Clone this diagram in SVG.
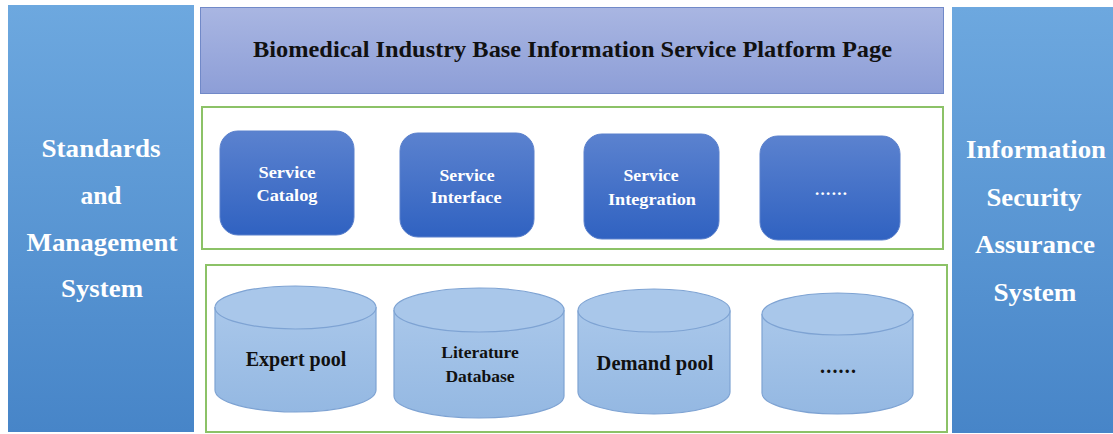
<svg xmlns="http://www.w3.org/2000/svg" width="1113" height="434" viewBox="0 0 1113 434">
  <defs>
    <linearGradient id="sideFill" x1="0" y1="0" x2="0" y2="1">
      <stop offset="0" stop-color="#6da8df"/>
      <stop offset="1" stop-color="#4785c8"/>
    </linearGradient>
    <linearGradient id="titleFill" x1="0" y1="0" x2="0" y2="1">
      <stop offset="0" stop-color="#a9b6e2"/>
      <stop offset="1" stop-color="#8d9ed7"/>
    </linearGradient>
    <linearGradient id="serviceFill" x1="0" y1="0" x2="0" y2="1">
      <stop offset="0" stop-color="#5b82cf"/>
      <stop offset="1" stop-color="#3062c1"/>
    </linearGradient>
    <linearGradient id="dbFill" x1="0" y1="0" x2="0" y2="1">
      <stop offset="0" stop-color="#a9c7ea"/>
      <stop offset="1" stop-color="#94b8e2"/>
    </linearGradient>
    <style>
      .side { fill: url(#sideFill); }
      .side-text { font-family: "Liberation Serif", serif; font-weight: bold; font-size: 25px; fill: #ffffff; text-anchor: middle; }
      .title { fill: url(#titleFill); stroke: #7189c8; stroke-width: 1; }
      .title-text { font-family: "Liberation Serif", serif; font-weight: bold; font-size: 23px; fill: #111111; text-anchor: middle; }
      .frame { fill: #ffffff; stroke: #8cc267; stroke-width: 2; }
      .service { fill: url(#serviceFill); stroke: #5a80cc; stroke-width: 1; }
      .service-text { font-family: "Liberation Serif", serif; font-weight: bold; font-size: 17px; fill: #ffffff; text-anchor: middle; }
      .db-body { fill: url(#dbFill); stroke: #7ea3d3; stroke-width: 1.2; }
      .db-top { fill: #a9c7ea; stroke: #7ea3d3; stroke-width: 1.2; }
      .db-text { font-family: "Liberation Serif", serif; font-weight: bold; fill: #111111; text-anchor: middle; }
    </style>
  </defs>

  <rect width="1113" height="434" fill="#ffffff"/>

  <!-- left column -->
  <g id="standards">
    <rect class="side" x="8" y="5" width="186" height="427"/>
    <text class="side-text" x="101" y="157" textLength="119" lengthAdjust="spacingAndGlyphs">Standards</text>
    <text class="side-text" x="101" y="204" textLength="41" lengthAdjust="spacingAndGlyphs">and</text>
    <text class="side-text" x="102" y="251" textLength="151" lengthAdjust="spacingAndGlyphs">Management</text>
    <text class="side-text" x="102" y="297" textLength="82" lengthAdjust="spacingAndGlyphs">System</text>
  </g>

  <!-- right column -->
  <g id="security">
    <rect class="side" x="952" y="7" width="161" height="426"/>
    <text class="side-text" x="1036" y="158" textLength="140" lengthAdjust="spacingAndGlyphs">Information</text>
    <text class="side-text" x="1034" y="206" textLength="95" lengthAdjust="spacingAndGlyphs">Security</text>
    <text class="side-text" x="1035" y="253" textLength="120" lengthAdjust="spacingAndGlyphs">Assurance</text>
    <text class="side-text" x="1035" y="301" textLength="83" lengthAdjust="spacingAndGlyphs">System</text>
  </g>

  <!-- platform page banner -->
  <g id="platform-page">
    <rect class="title" x="200.5" y="7.5" width="743" height="86"/>
    <text class="title-text" x="572.5" y="57" textLength="639" lengthAdjust="spacingAndGlyphs">Biomedical Industry Base Information Service Platform Page</text>
  </g>

  <!-- service layer -->
  <g id="service-layer">
    <rect class="frame" x="202" y="107" width="741" height="142"/>
  </g>
  <g id="service-catalog">
    <rect class="service" x="220" y="131" width="134" height="104" rx="18"/>
    <text class="service-text" x="287" y="178" textLength="57" lengthAdjust="spacingAndGlyphs">Service</text>
    <text class="service-text" x="287" y="201" textLength="61" lengthAdjust="spacingAndGlyphs">Catalog</text>
  </g>
  <g id="service-interface">
    <rect class="service" x="400" y="133" width="134" height="104" rx="18"/>
    <text class="service-text" x="467" y="181" textLength="55" lengthAdjust="spacingAndGlyphs">Service</text>
    <text class="service-text" x="466" y="203" textLength="71" lengthAdjust="spacingAndGlyphs">Interface</text>
  </g>
  <g id="service-integration">
    <rect class="service" x="584" y="134" width="135" height="105" rx="18"/>
    <text class="service-text" x="651" y="181" textLength="55" lengthAdjust="spacingAndGlyphs">Service</text>
    <text class="service-text" x="652" y="205" textLength="88" lengthAdjust="spacingAndGlyphs">Integration</text>
  </g>
  <g id="service-more">
    <rect class="service" x="760" y="136" width="140" height="104" rx="18"/>
    <text class="service-text" x="831" y="195" textLength="32" lengthAdjust="spacing">......</text>
  </g>

  <!-- data layer -->
  <g id="data-layer">
    <rect class="frame" x="206" y="265" width="741" height="167"/>
  </g>
  <g id="expert-pool">
    <path class="db-body" d="M215,307 V390 A80.5,22 0 0 0 376,390 V307"/>
    <ellipse class="db-top" cx="295.5" cy="307.5" rx="80.5" ry="21.5"/>
    <text class="db-text" x="296" y="366" font-size="20">Expert pool</text>
  </g>
  <g id="literature-db">
    <path class="db-body" d="M394,310 V396 A85,22 0 0 0 564,396 V310"/>
    <ellipse class="db-top" cx="479" cy="310" rx="85" ry="22"/>
    <text class="db-text" x="480" y="358" font-size="17.5">Literature</text>
    <text class="db-text" x="480" y="382" font-size="17.5">Database</text>
  </g>
  <g id="demand-pool">
    <path class="db-body" d="M578,310.5 V392 A76,22 0 0 0 730,392 V310.5"/>
    <ellipse class="db-top" cx="654" cy="310.5" rx="76" ry="21.5"/>
    <text class="db-text" x="655" y="370" font-size="20.5">Demand pool</text>
  </g>
  <g id="data-more">
    <path class="db-body" d="M762,314 V393 A75.5,21 0 0 0 913,393 V314"/>
    <ellipse class="db-top" cx="837.5" cy="314" rx="75.5" ry="21"/>
    <text class="db-text" x="838" y="373" font-size="20" textLength="36" lengthAdjust="spacing">......</text>
  </g>

  <!-- no connectors in this layered diagram -->
  <g id="connectors"/>
</svg>
